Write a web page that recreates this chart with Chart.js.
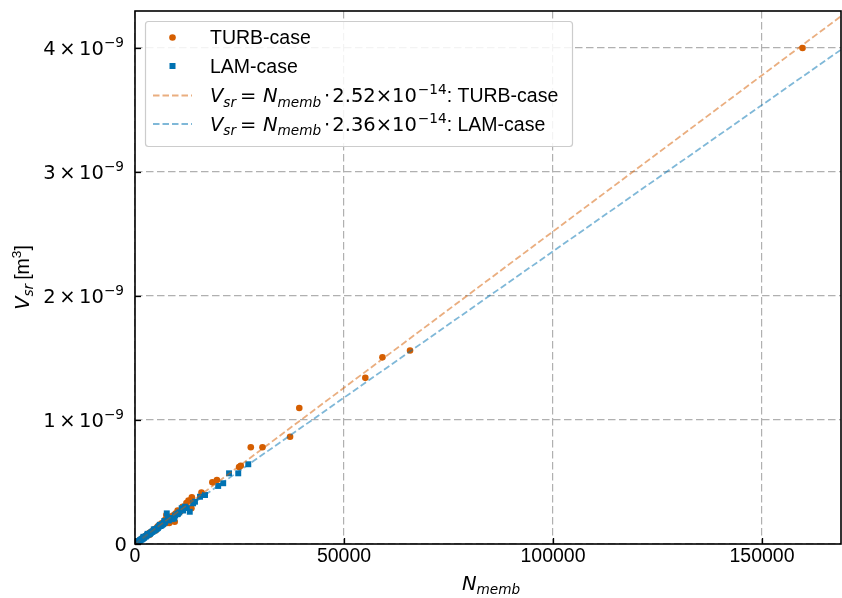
<!DOCTYPE html>
<html>
<head>
<meta charset="utf-8">
<script src="https://cdn.jsdelivr.net/npm/chart.js@4.4.0/dist/chart.umd.min.js"></script>
<style>
  html, body { margin: 0; padding: 0; background: #fff; }
  #wrap { width: 842px; height: 598px; position: relative; }
</style>
</head>
<body>
<div id="wrap"><canvas id="myChart"></canvas></div>
<script>
// N_memb and V_sr (in units of 1e-9 m^3)
var turbN = [159700, 65800, 59200, 55100, 39300, 37100, 30500, 27700, 25300, 24900,
  19600, 18500, 15900, 13600, 12800, 13500, 12300, 11400, 10900, 10200,
  9700, 9100, 8700, 7500, 7900, 7200, 6700, 6300, 5800, 5400,
  5000, 4600, 4200, 3800, 3400, 3000, 2700, 2400, 2100, 1800,
  1500, 1200, 900, 600, 7400, 10400, 9500, 8200, 5000, 3500];
var turbV = [4.00, 1.56, 1.505, 1.34, 1.097, 0.865, 0.78, 0.78, 0.63, 0.62,
  0.516, 0.497, 0.414, 0.377, 0.35, 0.288, 0.33, 0.30, 0.265, 0.27,
  0.245, 0.23, 0.22, 0.234, 0.215, 0.195, 0.17, 0.165, 0.15, 0.14,
  0.125, 0.118, 0.105, 0.097, 0.088, 0.078, 0.068, 0.061, 0.053, 0.046,
  0.038, 0.031, 0.023, 0.016, 0.167, 0.245, 0.18, 0.17, 0.11, 0.075];

var lamN = [27100, 24700, 22500, 21100, 19900, 16750, 15550, 14350, 13900, 13100,
  11960, 11160, 10600, 10100, 9600, 9100, 8600, 8100, 7600, 7200,
  6900, 6500, 6100, 5700, 5300, 4900, 4500, 4100, 3700, 3300,
  2900, 2500, 2200, 1900, 1600, 1300, 1000, 700, 400, 9400,
  8300, 5900, 3500, 500, 800, 1200, 1500, 1800, 2100, 2600,
  3000, 3400, 3800, 4200, 4700, 5100, 5500, 6300, 6700, 7800,
  8800, 10300, 11500, 12400, 2000, 3000, 4500, 6000, 7000];
var lamV = [0.643, 0.57, 0.57, 0.49, 0.468, 0.395, 0.381, 0.341, 0.328, 0.26,
  0.301, 0.288, 0.255, 0.24, 0.23, 0.21, 0.205, 0.19, 0.247, 0.175,
  0.17, 0.155, 0.145, 0.14, 0.125, 0.117, 0.108, 0.098, 0.088, 0.079,
  0.069, 0.06, 0.052, 0.045, 0.038, 0.031, 0.024, 0.017, 0.01, 0.205,
  0.21, 0.15, 0.08, 0.013, 0.02, 0.029, 0.036, 0.043, 0.05, 0.062,
  0.072, 0.08, 0.092, 0.1, 0.11, 0.12, 0.13, 0.15, 0.16, 0.2,
  0.2, 0.245, 0.27, 0.29, 0.058, 0.082, 0.118, 0.155, 0.185];

// fitted lines V = N * k, end points at the axis limits
var fitN = [0, 168900];
var turbFitV = [0, 4.256];
var lamFitV = [0, 3.986];

var xTicks = [0, 50000, 100000, 150000];
var yTicks = [0, 1, 2, 3, 4];

var ORANGE = '#d55e00';
var BLUE = '#0072b2';
var SANS = '"Liberation Sans", Arial, sans-serif';
var MATH = '"DejaVu Sans", sans-serif';
var FS = 19.5;

function pts(xs, ys) {
  var out = [];
  for (var i = 0; i < xs.length; i++) out.push({ x: xs[i], y: ys[i] });
  return out;
}

// draws text pieces with italic / sub / sup / gaps, returns width
function rich(ctx, segs, x, y, size, measureOnly) {
  var cx = x;
  segs.forEach(function (s) {
    if (s.gap) { cx += s.gap; return; }
    var sz = (s.sub || s.sup) ? size * 0.7 : size;
    var dy = s.sub ? size * 0.22 : (s.sup ? -size * 0.42 : 0);
    ctx.font = (s.it ? 'italic ' : '') + sz + 'px ' + (s.m ? MATH : SANS);
    if (!measureOnly) ctx.fillText(s.t, cx, y + dy);
    cx += ctx.measureText(s.t).width;
  });
  return cx - x;
}

function fitLabel(k, name) {
  return [
    { t: 'V', it: true, m: true }, { t: 'sr', it: true, sub: true, m: true }, { gap: 4 },
    { t: '=', m: true }, { gap: 6.5 },
    { t: 'N', it: true, m: true }, { t: 'memb', it: true, sub: true, m: true }, { gap: 3 },
    { t: '\u22c5', m: true }, { gap: 2 },
    { t: k + '\u00d710', m: true }, { gap: 1 }, { t: '\u221214', sup: true, m: true },
    { t: ': ' + name }
  ];
}

var legendRows = [
  { kind: 'circle', color: ORANGE, segs: [{ t: 'TURB-case' }] },
  { kind: 'rect', color: BLUE, segs: [{ t: 'LAM-case' }] },
  { kind: 'line', color: 'rgba(213,94,0,0.5)', segs: fitLabel('2.52', 'TURB-case') },
  { kind: 'line', color: 'rgba(0,114,178,0.5)', segs: fitLabel('2.36', 'LAM-case') }
];
var legendY = [37.5, 66, 95.5, 124];

var decor = {
  id: 'decor',
  afterDraw: function (chart) {
    var ctx = chart.ctx, a = chart.chartArea;
    var xs = chart.scales.x, ys = chart.scales.y;
    ctx.save();
    // inward ticks
    ctx.strokeStyle = '#000';
    ctx.lineWidth = 1.3;
    xTicks.forEach(function (v) {
      var px = Math.round(xs.getPixelForValue(v)) + 0.5;
      ctx.beginPath(); ctx.moveTo(px, a.bottom); ctx.lineTo(px, a.bottom - 6); ctx.stroke();
    });
    yTicks.forEach(function (v) {
      var py = Math.round(ys.getPixelForValue(v)) + 0.5;
      ctx.beginPath(); ctx.moveTo(a.left, py); ctx.lineTo(a.left + 6, py); ctx.stroke();
    });
    // y tick labels  n x 10^-9
    ctx.fillStyle = '#000';
    ctx.textBaseline = 'alphabetic';
    yTicks.forEach(function (v) {
      var py = ys.getPixelForValue(v);
      var segs = v === 0 ? [{ t: '0', m: true }] :
        [{ t: String(v), m: true }, { gap: 3.5 }, { t: '\u00d7', m: true }, { gap: 3.5 },
         { t: '10', m: true }, { t: '\u22129', sup: true, m: true }];
      var w = rich(ctx, segs, 0, 0, FS, true);
      var right = v === 0 ? 127 : 124;
      rich(ctx, segs, right - w, py + FS * 0.36, FS);
    });
    // frame
    ctx.lineWidth = 1.6;
    ctx.strokeRect(a.left, a.top, a.right - a.left, a.bottom - a.top);

    // legend
    ctx.fillStyle = 'rgba(255,255,255,0.85)';
    ctx.strokeStyle = '#cccccc';
    ctx.lineWidth = 1.2;
    ctx.beginPath();
    ctx.roundRect(145.5, 21.5, 427, 125, 3);
    ctx.fill(); ctx.stroke();
    legendRows.forEach(function (r, i) {
      var cy = legendY[i];
      if (r.kind === 'circle') {
        ctx.fillStyle = r.color;
        ctx.beginPath(); ctx.arc(172.5, cy, 3.3, 0, Math.PI * 2); ctx.fill();
      } else if (r.kind === 'rect') {
        ctx.fillStyle = r.color;
        ctx.fillRect(169.5, cy - 3, 6, 6);
      } else {
        ctx.strokeStyle = r.color;
        ctx.lineWidth = 1.8;
        ctx.setLineDash([6.5, 3]);
        ctx.beginPath(); ctx.moveTo(153, cy); ctx.lineTo(192, cy); ctx.stroke();
        ctx.setLineDash([]);
      }
      ctx.fillStyle = '#000';
      rich(ctx, r.segs, 210, cy + FS * 0.35, FS);
    });

    // axis titles
    ctx.fillStyle = '#000';
    var xt = [{ t: 'N', it: true, m: true }, { t: 'memb', it: true, sub: true, m: true }];
    var w = rich(ctx, xt, 0, 0, FS, true);
    rich(ctx, xt, (a.left + a.right) / 2 - w / 2 + 3, 590, FS);

    var yt = [{ t: 'V', it: true, m: true }, { t: 'sr', it: true, sub: true, m: true }, { gap: 4 },
      { t: '[m' }, { t: '3', sup: true }, { t: ']' }];
    w = rich(ctx, yt, 0, 0, FS, true);
    ctx.translate(29, (a.top + a.bottom) / 2);
    ctx.rotate(-Math.PI / 2);
    rich(ctx, yt, -w / 2, 0, FS);
    ctx.restore();
  }
};

var myChart = new Chart(document.getElementById('myChart').getContext('2d'), {
  type: 'scatter',
  data: {
    datasets: [
      {
        label: 'LAM fit', type: 'line', data: pts(fitN, lamFitV), order: 0,
        borderColor: 'rgba(0,114,178,0.5)', borderWidth: 1.8, borderDash: [6.5, 3],
        pointRadius: 0, fill: false
      },
      {
        label: 'TURB fit', type: 'line', data: pts(fitN, turbFitV), order: 1,
        borderColor: 'rgba(213,94,0,0.5)', borderWidth: 1.8, borderDash: [6.5, 3],
        pointRadius: 0, fill: false
      },
      {
        label: 'LAM-case', data: pts(lamN, lamV), order: 2,
        pointStyle: 'rect', pointRadius: 4.2, backgroundColor: BLUE, borderWidth: 0
      },
      {
        label: 'TURB-case', data: pts(turbN, turbV), order: 3,
        pointStyle: 'circle', pointRadius: 3.3, backgroundColor: ORANGE, borderWidth: 0
      }
    ]
  },
  options: {
    responsive: true,
    maintainAspectRatio: false,
    animation: false,
    devicePixelRatio: 1,
    layout: { autoPadding: false, padding: { top: 11, right: 1, left: 0, bottom: 0 } },
    plugins: { legend: { display: false }, tooltip: { enabled: false } },
    scales: {
      x: {
        type: 'linear', min: 0, max: 168900,
        afterFit: function (s) { s.height = 54; s.paddingLeft = 0; s.paddingRight = 0; },
        afterBuildTicks: function (s) { s.ticks = xTicks.map(function (v) { return { value: v }; }); },
        ticks: {
          padding: 1, color: '#000', maxRotation: 0,
          font: { family: SANS, size: FS },
          callback: function (v) { return String(v); }
        },
        grid: { color: '#b0b0b0', lineWidth: 1.2, drawTicks: false },
        border: { display: false, dash: [7.5, 3.5] }
      },
      y: {
        type: 'linear', min: 0, max: 4.298,
        afterFit: function (s) { s.width = 135; s.paddingTop = 0; s.paddingBottom = 0; },
        afterBuildTicks: function (s) { s.ticks = yTicks.map(function (v) { return { value: v }; }); },
        ticks: { display: false },
        grid: { color: '#b0b0b0', lineWidth: 1.2, drawTicks: false },
        border: { display: false, dash: [7.5, 3.5] }
      }
    }
  },
  plugins: [decor]
});
</script>
</body>
</html>
